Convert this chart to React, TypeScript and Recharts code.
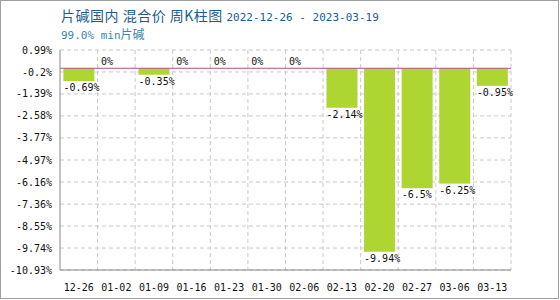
import { BarChart, Bar, XAxis, YAxis, CartesianGrid, ReferenceLine } from 'recharts';

const weeks = ['12-26', '01-02', '01-09', '01-16', '01-23', '01-30', '02-06', '02-13', '02-20', '02-27', '03-06', '03-13'];
const changes = [-0.69, 0, -0.35, 0, 0, 0, 0, -2.14, -9.94, -6.5, -6.25, -0.95];
const yTicks = [0.99, -0.2, -1.39, -2.58, -3.77, -4.97, -6.16, -7.36, -8.55, -9.74, -10.93];

const data = weeks.map((w, i) => ({ week: w, change: changes[i] }));

const MONO = '"DejaVu Sans Mono", monospace';

// bar plus its value label (zero bars still get a "0%" above the baseline)
function BarWithValue(props: any) {
  const { x, y, width, height, fill, change } = props;
  const top = Math.min(y, y + height);
  const bottom = Math.max(y, y + height);
  const h = bottom - top;
  return (
    <g>
      {h > 0 && <rect x={x} y={top} width={width} height={h} fill={fill} />}
      {change === 0 ? (
        <text x={x} y={top - 3} fontSize={10} fontFamily={MONO} fill="#111">
          0%
        </text>
      ) : (
        <text x={x} y={bottom + 10} fontSize={10} fontFamily={MONO} fill="#111">
          {change}%
        </text>
      )}
    </g>
  );
}

export default function App() {
  return (
    <div
      style={{
        position: 'absolute',
        left: 0,
        top: 0,
        width: 559,
        height: 299,
        border: '1px solid #a0a0a0',
        boxSizing: 'border-box',
        background: '#fff',
      }}
    >
      <div style={{ position: 'absolute', left: 60, top: 5, whiteSpace: 'nowrap', color: '#1d5d8e', lineHeight: '18px' }}>
        <span style={{ fontFamily: '"Noto Sans CJK SC"', fontSize: 14, letterSpacing: 0.5 }}>片碱国内 混合价 周K柱图 </span>
        <span style={{ fontFamily: MONO, fontSize: 11 }}>2022-12-26 - 2023-03-19</span>
      </div>
      <div style={{ position: 'absolute', left: 60, top: 24, whiteSpace: 'nowrap', color: '#3a86b6', lineHeight: '18px' }}>
        <span style={{ fontFamily: MONO, fontSize: 11 }}>99.0% min</span>
        <span style={{ fontFamily: '"Noto Sans CJK SC"', fontSize: 12 }}>片碱</span>
      </div>
      <div style={{ position: 'absolute', left: -1, top: -1 }}>
        <BarChart
          width={560}
          height={300}
          data={data}
          margin={{ top: 50, right: 49, left: 0, bottom: 0 }}
          barCategoryGap="9%"
        >
          <CartesianGrid
            stroke="#c8c8c8"
            strokeDasharray="4 3"
            verticalCoordinatesGenerator={({ offset }: any) =>
              weeks.map((_, i) => offset.left + ((i + 1) * offset.width) / weeks.length)
            }
          />
          <XAxis
            dataKey="week"
            height={30}
            tickLine={false}
            tickMargin={8}
            axisLine={{ stroke: '#888' }}
            interval={0}
            tick={{ fontSize: 10, fontFamily: MONO, fill: '#111' }}
          />
          <YAxis
            width={60}
            domain={[-10.93, 0.99]}
            ticks={yTicks}
            interval={0}
            tickLine={false}
            axisLine={{ stroke: '#888' }}
            tickFormatter={(v: number) => `${v}%`}
            tick={{ fontSize: 10, fontFamily: MONO, fill: '#111' }}
          />
          <ReferenceLine y={0} stroke="#b0508a" strokeWidth={1} />
          <Bar dataKey="change" fill="#add633" isAnimationActive={false} shape={BarWithValue} />
        </BarChart>
      </div>
    </div>
  );
}
